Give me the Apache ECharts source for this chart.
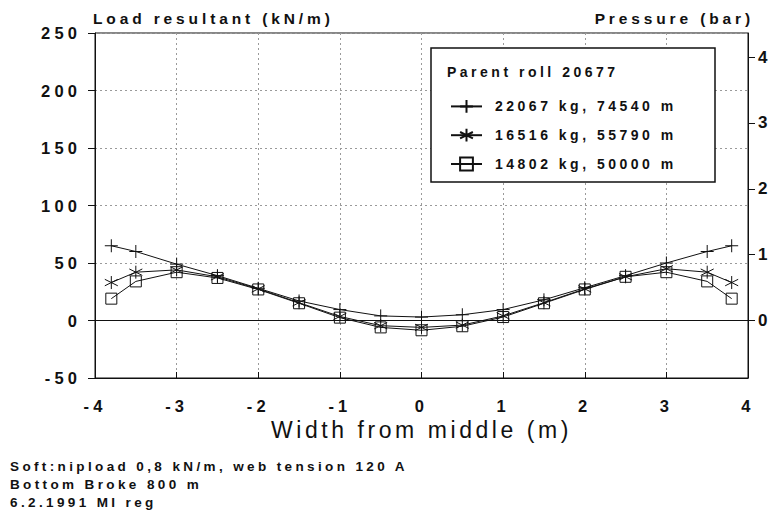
<!DOCTYPE html>
<html>
<head>
<meta charset="utf-8">
<script src="https://cdn.jsdelivr.net/npm/echarts@6/dist/echarts.min.js"></script>
<style>
  html, body { margin: 0; padding: 0; background: #fff; }
  #chart { width: 782px; height: 515px; }
  /* the original plot uses a wide-tracked plotter font */
  #chart text { letter-spacing: 0.25em; }
  #chart text[style*="23px"] { letter-spacing: 0.155em; }
</style>
</head>
<body>
<div id="chart"></div>
<script>
// positions across the web (m)
const widthPos = [-3.8, -3.5, -3, -2.5, -2, -1.5, -1, -0.5, 0, 0.5, 1, 1.5, 2, 2.5, 3, 3.5, 3.8];
// load resultant (kN/m) per roll diameter
const roll22067 = [65, 60, 49, 39, 28, 17, 9.5, 4, 3, 5, 9.5, 18, 28.5, 39, 50, 60, 65];
const roll16516 = [33, 42, 44, 38, 27.5, 15.5, 3.5, -4.5, -6, -4, 4, 15.5, 27.5, 38, 45, 42, 33];
const roll14802 = [19, 34, 42, 37, 27, 15, 2.5, -6, -8.5, -5, 3, 15, 27, 38, 42, 34, 19];
const seriesNames = ["22067 kg, 74540 m", "16516 kg, 55790 m", "14802 kg, 50000 m"];
const pressureTicks = [0, 1, 2, 3, 4];
const notes = [
  "Soft:nipload 0,8 kN/m, web tension 120 A",
  "Bottom Broke 800 m",
  "6.2.1991 MI reg",
];

const INK = "#111";
const FONT = "Liberation Sans";
const KN_PER_BAR = 57.27; // left/right axis ratio

const symPlus = "path://M0,6 L12,6 M6,0 L6,12";
const symStar = "path://M6,0 L6,12 M0.8,3 L11.2,9 M0.8,9 L11.2,3";
const symSquare = "path://M0,0 L12,0 L12,12 L0,12 Z";

function pairs(vals) {
  return widthPos.map((x, i) => [x, vals[i]]);
}

function makeSeries(name, vals, symbol, size) {
  return {
    name: name,
    type: "line",
    data: pairs(vals),
    symbol: symbol,
    symbolSize: size,
    showAllSymbol: true,
    lineStyle: { color: INK, width: 1 },
    itemStyle: { color: "rgba(0,0,0,0)", borderColor: INK, borderWidth: 1 },
    emphasis: { disabled: true },
    z: 3,
  };
}

const chart = echarts.init(document.getElementById("chart"), null, { renderer: "svg" });

const series = [
  makeSeries(seriesNames[0], roll22067, symPlus, 13),
  makeSeries(seriesNames[1], roll16516, symStar, 13),
  makeSeries(seriesNames[2], roll14802, symSquare, 11),
];
// zero reference line
series[0].markLine = {
  silent: true,
  symbol: "none",
  label: { show: false },
  lineStyle: { color: INK, type: "solid", width: 1 },
  data: [{ yAxis: 0 }],
};

const gridLine = { show: true, lineStyle: { color: "#9a9a9a", type: [2, 3], width: 1 } };
const smallText = { fontFamily: FONT, fontWeight: "bold", color: INK };

chart.setOption({
  animation: false,
  backgroundColor: "#fff",
  textStyle: { fontFamily: FONT },
  grid: {
    left: 95, right: 34, top: 33, bottom: 137,
    show: true, borderColor: INK, borderWidth: 1,
  },
  xAxis: {
    type: "value",
    min: -4, max: 4, interval: 1,
    name: "Width from middle (m)",
    nameLocation: "middle",
    nameGap: 40,
    nameTextStyle: { fontFamily: FONT, fontSize: 23, color: INK },
    axisLine: { onZero: false, lineStyle: { color: INK } },
    axisTick: { inside: true, length: 6, lineStyle: { color: INK } },
    axisLabel: Object.assign({ margin: 19, fontSize: 16.5 }, smallText),
    splitLine: gridLine,
  },
  yAxis: [
    {
      type: "value",
      min: -50, max: 250, interval: 50,
      axisLine: { show: true, onZero: false, lineStyle: { color: INK } },
      axisTick: { show: true, inside: false, length: 7, lineStyle: { color: INK } },
      axisLabel: Object.assign({ margin: 14, fontSize: 16.5 }, smallText),
      splitLine: gridLine,
    },
    {
      type: "value",
      position: "right",
      min: -50 / KN_PER_BAR, max: 250 / KN_PER_BAR,
      axisLine: { show: true, onZero: false, lineStyle: { color: INK } },
      axisTick: { show: true, inside: false, length: 7, customValues: pressureTicks, lineStyle: { color: INK } },
      axisLabel: Object.assign({ margin: 10, fontSize: 17, customValues: pressureTicks }, smallText),
      splitLine: { show: false },
    },
  ],
  legend: {
    orient: "vertical",
    left: 445, top: 94,
    itemWidth: 31, itemHeight: 16, itemGap: 14,
    selectedMode: false,
    textStyle: Object.assign({ fontSize: 14, padding: [0, 0, 0, 8] }, smallText),
    data: seriesNames,
    z: 6,
  },
  graphic: [
    {
      type: "rect", z: 4,
      shape: { x: 431, y: 48, width: 284, height: 134 },
      style: { fill: "#fff", stroke: INK, lineWidth: 1.5 },
    },
    {
      type: "text", z: 6, left: 447, top: 65,
      style: { text: "Parent roll 20677", fontFamily: FONT, fontWeight: "bold", fontSize: 14, fill: INK },
    },
    {
      type: "text", left: 93, top: 10,
      style: { text: "Load resultant (kN/m)", fontFamily: FONT, fontWeight: "bold", fontSize: 15.5, fill: INK },
    },
    {
      type: "text",
      style: {
        text: "Pressure (bar)", x: 754, y: 10, textAlign: "right",
        fontFamily: FONT, fontWeight: "bold", fontSize: 15.5, fill: INK,
      },
    },
    {
      type: "text", left: 10, top: 457,
      style: {
        text: notes.join("\n"),
        fontFamily: FONT, fontSize: 13.5, fontWeight: "bold",
        lineHeight: 18,
        fill: INK,
      },
    },
  ],
  series: series,
});
</script>
</body>
</html>
